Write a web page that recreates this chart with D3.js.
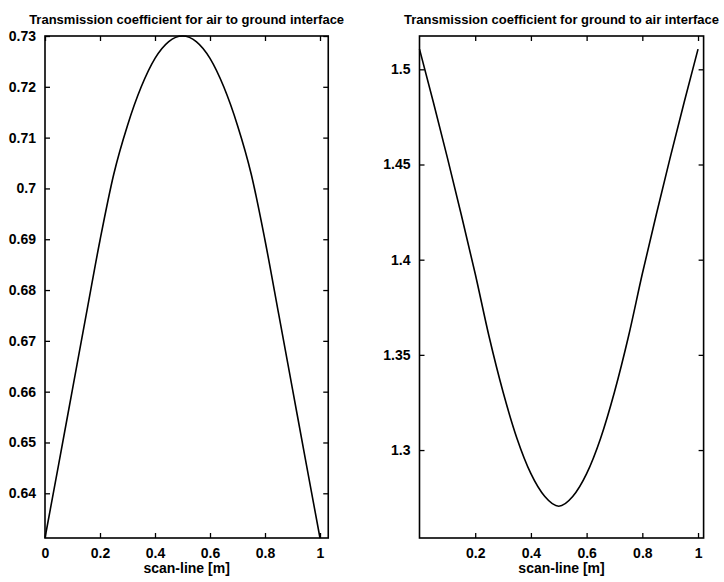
<!DOCTYPE html>
<html>
<head>
<meta charset="utf-8">
<script src="https://cdn.jsdelivr.net/npm/d3@7"></script>
<style>
  html, body { margin: 0; padding: 0; background: #fff; }
  svg { display: block; }
  text { font-family: "Liberation Sans", Arial, Helvetica, sans-serif; fill: #000; }
</style>
</head>
<body>
<svg id="chart" width="724" height="582"></svg>
<script>
// ---- data ----
const scanLine = [0, 0.05, 0.1, 0.15, 0.2, 0.25, 0.3, 0.35, 0.4, 0.45, 0.5,
                  0.55, 0.6, 0.65, 0.7, 0.75, 0.8, 0.85, 0.9, 0.95, 1];
const airToGround = [0.6312, 0.6458, 0.6605, 0.6752, 0.6898, 0.7028, 0.7124, 0.7200, 0.7256, 0.7289, 0.7300,
                     0.7289, 0.7256, 0.7200, 0.7124, 0.7028, 0.6898, 0.6752, 0.6605, 0.6458, 0.6312];
const groundToAir = [1.5106, 1.4826, 1.4536, 1.4236, 1.3926, 1.3595, 1.3305, 1.3061, 1.2876, 1.2756, 1.2705,
                     1.2756, 1.2876, 1.3061, 1.3305, 1.3595, 1.3926, 1.4236, 1.4536, 1.4826, 1.5106];

const leftXTicks = [0, 0.2, 0.4, 0.6, 0.8, 1];
const leftXLabels = ["0", "0.2", "0.4", "0.6", "0.8", "1"];
const leftYTicks = [0.64, 0.65, 0.66, 0.67, 0.68, 0.69, 0.7, 0.71, 0.72, 0.73];
const leftYLabels = ["0.64", "0.65", "0.66", "0.67", "0.68", "0.69", "0.7", "0.71", "0.72", "0.73"];
const rightXTicks = [0.2, 0.4, 0.6, 0.8, 1];
const rightXLabels = ["0.2", "0.4", "0.6", "0.8", "1"];
const rightYTicks = [1.3, 1.35, 1.4, 1.45, 1.5];
const rightYLabels = ["1.3", "1.35", "1.4", "1.45", "1.5"];

const titles = ["Transmission coefficient for air to ground interface",
                "Transmission coefficient for ground to air interface"];
const xLabel = "scan-line [m]";

// ---- drawing ----
const svg = d3.select("#chart");

function panel(cfg) {
  const x = d3.scaleLinear().domain(cfg.xDomain).range([cfg.left, cfg.right]);
  const y = d3.scaleLinear().domain(cfg.yDomain).range([cfg.bottom, cfg.top]);
  const g = svg.append("g");
  const tick = 5;

  const bx = g.append("g").attr("transform", `translate(0,${cfg.bottom})`)
    .call(d3.axisBottom(x).tickValues(cfg.xTicks).tickSize(-tick).tickPadding(tick + 5)
      .tickFormat((d, i) => cfg.xLabels[i]));
  const tx = g.append("g").attr("transform", `translate(0,${cfg.top})`)
    .call(d3.axisTop(x).tickValues(cfg.xTicks).tickSize(-tick).tickFormat(""));
  const ly = g.append("g").attr("transform", `translate(${cfg.left},0)`)
    .call(d3.axisLeft(y).tickValues(cfg.yTicks).tickSize(-tick).tickPadding(tick + 4)
      .tickFormat((d, i) => cfg.yLabels[i]));
  const ry = g.append("g").attr("transform", `translate(${cfg.right},0)`)
    .call(d3.axisRight(y).tickValues(cfg.yTicks).tickSize(-tick).tickFormat(""));

  [bx, tx, ly, ry].forEach(a => {
    a.select(".domain").remove();
    a.selectAll(".tick line").attr("stroke", "#000").attr("stroke-width", 1.3);
    a.selectAll(".tick text").style("font-size", "14px").style("font-weight", "bold")
      .style("font-family", '"Liberation Sans", Arial, sans-serif').attr("fill", "#000");
  });

  g.append("rect")
    .attr("x", cfg.left).attr("y", cfg.top)
    .attr("width", cfg.right - cfg.left).attr("height", cfg.bottom - cfg.top)
    .attr("fill", "none").attr("stroke", "#000").attr("stroke-width", 1.6);

  const line = d3.line().x((d, i) => x(cfg.xs[i])).y(d => y(d)).curve(d3.curveMonotoneX);
  g.append("path").datum(cfg.ys)
    .attr("d", line).attr("fill", "none").attr("stroke", "#000").attr("stroke-width", 1.6);

  g.append("text")
    .attr("x", (cfg.left + cfg.right) / 2).attr("y", 24)
    .attr("text-anchor", "middle")
    .style("font-size", "13px").style("font-weight", "bold")
    .text(cfg.title);

  g.append("text")
    .attr("x", (cfg.left + cfg.right) / 2).attr("y", 573)
    .attr("text-anchor", "middle")
    .style("font-size", "14px").style("font-weight", "bold")
    .text(xLabel);
}

panel({
  left: 45, right: 328.25, top: 36, bottom: 538,
  xDomain: [0, 1.03], yDomain: [0.6312, 0.73],
  xTicks: leftXTicks, xLabels: leftXLabels, yTicks: leftYTicks, yLabels: leftYLabels,
  xs: scanLine, ys: airToGround, title: titles[0]
});

panel({
  left: 419.5, right: 703.6, top: 36, bottom: 538,
  xDomain: [0, 1.02], yDomain: [1.2538, 1.5175],
  xTicks: rightXTicks, xLabels: rightXLabels, yTicks: rightYTicks, yLabels: rightYLabels,
  xs: scanLine, ys: groundToAir, title: titles[1]
});
</script>
</body>
</html>
